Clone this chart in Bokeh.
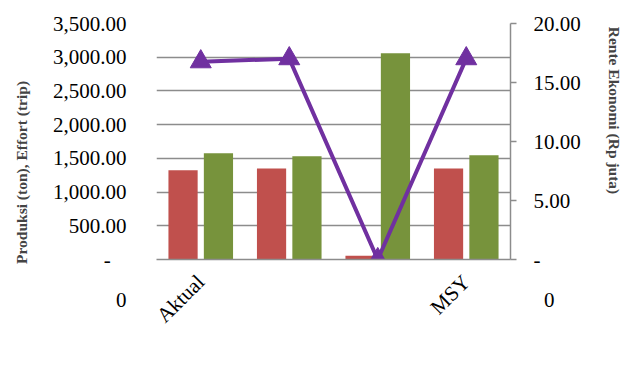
import math

from bokeh.embed import file_html
from bokeh.models import (ColumnDataSource, FixedTicker, Legend,
                          LegendItem, LinearAxis, NumeralTickFormatter, Range1d)
from bokeh.plotting import figure
from bokeh.resources import INLINE

# --- data -------------------------------------------------------------
categories = ["Aktual", "", "", "MSY"]
produksi = [1325, 1349, 55, 1349]          # ton
effort = [1576, 1531, 3057, 1546]          # trip
rente = [16.76, 17.02, 0.00, 17.02]        # Rp juta
left_ticks = [0, 500, 1000, 1500, 2000, 2500, 3000, 3500]
right_ticks = [0, 5, 10, 15, 20]
series_names = ["Produksi (h) (ton)", "Effort (E) (trip)", "\u03c0 (juta Rp)"]

RED = "#C0504D"
GREEN = "#77933C"
PURPLE = "#7030A0"
GRID = "#8C8C8C"
FONT = "Liberation Serif"
FS = "21px"
PAD = "\u00a0" * 16   # keeps the axis titles sitting low along their axes

xpos = [i + 0.5 for i in range(len(categories))]
src = ColumnDataSource(dict(
    x=xpos,
    x_red=[x - 0.2 for x in xpos],
    x_green=[x + 0.2 for x in xpos],
    produksi=produksi,
    effort=effort,
    rente=rente,
))

# fixed page and plot-area size; the legends get what is left below the axis
p = figure(width=633, height=372, frame_width=354, frame_height=236,
           output_backend="svg", toolbar_location=None,
           x_range=Range1d(0, len(categories)), y_range=Range1d(0, 3500),
           min_border_left=156, min_border_right=123,
           min_border_top=23, min_border_bottom=0)
p.outline_line_color = None
p.extra_y_ranges = {"rente": Range1d(0, 20)}

# bars on the primary axis
r_prod = p.vbar(x="x_red", top="produksi", width=0.33, source=src,
                fill_color=RED, line_color=None)
r_eff = p.vbar(x="x_green", top="effort", width=0.33, source=src,
               fill_color=GREEN, line_color=None)

# economic rent on the secondary axis
r_line = p.line(x="x", y="rente", source=src, y_range_name="rente",
                line_color=PURPLE, line_width=4)
r_mark = p.scatter(x="x", y="rente", source=src, y_range_name="rente",
                   marker="triangle", size=21, fill_color=PURPLE,
                   line_color=PURPLE)

# left axis ("-" at zero, with the corner "0" two lines below it)
ya = p.yaxis[0]
ya.ticker = FixedTicker(ticks=left_ticks)
ya.formatter = NumeralTickFormatter(format="0,0.00")
ya.major_label_overrides = {0: "\n\n-\u00a0\u00a0\u00a0\n\n0"}
ya.axis_line_color = None
ya.major_tick_line_color = None
ya.minor_tick_line_color = None
ya.major_label_standoff = 24
ya.major_label_text_font = FONT
ya.major_label_text_font_size = FS
ya.major_label_text_line_height = 0.85
ya.major_label_text_color = "black"
ya.axis_label = "Produksi (ton), Effort (trip)" + PAD
ya.axis_label_text_font = FONT
ya.axis_label_text_font_style = "bold"
ya.axis_label_text_font_size = "15.5px"
ya.axis_label_standoff = 20

# right axis
ra = LinearAxis(y_range_name="rente", ticker=FixedTicker(ticks=right_ticks),
                formatter=NumeralTickFormatter(format="0.00"),
                axis_label="Rente Ekonomi (Rp juta)" + PAD)
ra.major_label_overrides = {0: "\n\n-\n\n\u00a0\u00a00"}
ra.axis_line_color = GRID
ra.axis_line_width = 1.5
ra.major_tick_line_color = GRID
ra.major_tick_line_width = 1.5
ra.major_tick_in = 0
ra.major_tick_out = 6
ra.minor_tick_line_color = None
ra.major_label_standoff = 17
ra.major_label_text_font = FONT
ra.major_label_text_font_size = FS
ra.major_label_text_line_height = 0.85
ra.major_label_text_color = "black"
ra.axis_label_text_font = FONT
ra.axis_label_text_font_style = "bold"
ra.axis_label_text_font_size = "15.5px"
ra.axis_label_standoff = 22
p.add_layout(ra, "right")

# bottom axis
xa = p.xaxis[0]
xa.ticker = FixedTicker(ticks=xpos)
xa.major_label_overrides = {x: c for x, c in zip(xpos, categories)}
xa.major_label_orientation = math.pi / 4
xa.axis_line_color = GRID
xa.axis_line_width = 1.5
xa.major_tick_line_color = None
xa.minor_tick_line_color = None
xa.major_label_standoff = 13
xa.major_label_text_font = FONT
xa.major_label_text_font_size = FS
xa.major_label_text_color = "black"

p.xgrid.grid_line_color = None
p.ygrid.grid_line_color = GRID
p.ygrid.grid_line_width = 1.5

# --- legends underneath the chart ---------------------------------------
common = dict(location="center", orientation="horizontal", padding=0,
              margin=0, border_line_color=None, background_fill_alpha=0,
              label_text_font=FONT, label_text_font_size=FS)
leg_a = Legend(items=[LegendItem(label=series_names[0], renderers=[r_prod]),
                      LegendItem(label=series_names[1], renderers=[r_eff])],
               glyph_width=65, glyph_height=14, label_standoff=3,
               label_width=150, spacing=73, **common)
leg_b = Legend(items=[LegendItem(label=series_names[2],
                                 renderers=[r_line, r_mark])],
               glyph_width=55, glyph_height=22, label_standoff=4,
               label_width=450, **common)
p.add_layout(leg_a, "below")
p.add_layout(leg_b, "below")

open("out.html", "w").write(file_html(p, INLINE))
